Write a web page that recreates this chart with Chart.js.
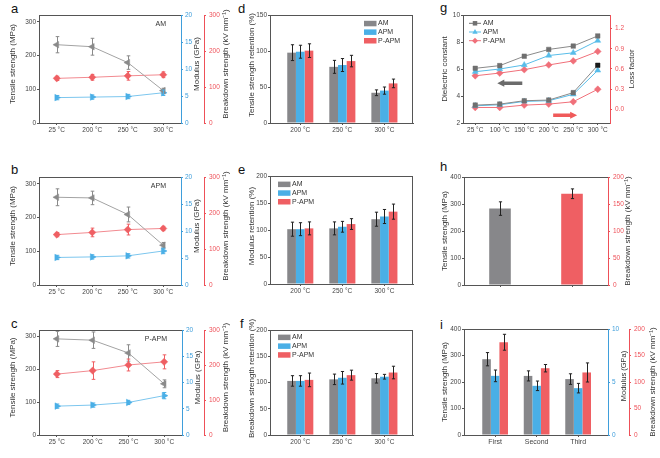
<!DOCTYPE html>
<html>
<head>
<meta charset="utf-8">
<title>Mechanical and dielectric properties of AM, APM and P-APM</title>
<script src="https://cdn.jsdelivr.net/npm/chart.js@4.4.1/dist/chart.umd.min.js"></script>
<style>
  html, body { margin: 0; padding: 0; background: #fff; }
  body { position: relative; width: 660px; height: 458px; overflow: hidden; font-family: Arial, "Liberation Sans", sans-serif; }
  canvas { position: absolute; }
  .tag { position: absolute; font-size: 13px; line-height: 13px; color: #111; }
</style>
</head>
<body>
<div class="tag" style="left:11px;top:2px">a</div>
<div class="tag" style="left:11px;top:163px">b</div>
<div class="tag" style="left:11px;top:317px">c</div>
<div class="tag" style="left:238px;top:2px">d</div>
<div class="tag" style="left:238px;top:163px">e</div>
<div class="tag" style="left:240px;top:317px">f</div>
<div class="tag" style="left:440px;top:1px">g</div>
<div class="tag" style="left:440px;top:160px">h</div>
<div class="tag" style="left:440px;top:318px">i</div>
<script>
// ---------- data ----------
const sampleNames = ['AM', 'APM', 'P-APM'];
const tempLabels = ['25 °C', '200 °C', '250 °C', '300 °C'];

// a: AM
const amTensile = [232, 226, 179, 96];
const amTensileErr = [24, 25, 20, 7];
const amModulus = [4.7, 4.8, 4.9, 5.6];
const amModulusErr = [0.4, 0.4, 0.4, 0.5];
const amBreakdown = [124, 127, 131, 134];
const amBreakdownErr = [6, 8, 12, 8];

// b: APM
const apmTensile = [260, 258, 209, 118];
const apmTensileErr = [25, 20, 22, 8];
const apmModulus = [5.1, 5.2, 5.4, 6.3];
const apmModulusErr = [0.4, 0.4, 0.4, 0.5];
const apmBreakdown = [140, 146, 154, 157];
const apmBreakdownErr = [6, 12, 15, 6];

// c: P-APM
const papmTensile = [293, 289, 250, 156];
const papmTensileErr = [23, 25, 25, 12];
const papmModulus = [5.5, 5.7, 6.2, 7.5];
const papmModulusErr = [0.4, 0.4, 0.4, 0.6];
const papmBreakdown = [174, 184, 200, 209];
const papmBreakdownErr = [10, 25, 17, 20];

// d, e, f: retention (%)
const retLabels = ['200 °C', '250 °C', '300 °C'];
const tsRetAM = [97.7, 78, 42];
const tsRetAMErr = [11, 9, 4];
const tsRetAPM = [99, 80.5, 45];
const tsRetAPMErr = [9, 9, 5];
const tsRetPAPM = [100.5, 86, 55];
const tsRetPAPMErr = [9.5, 8, 6];

const modRetAM = [101.5, 103, 120];
const modRetAMErr = [13, 12, 13];
const modRetAPM = [101.5, 106, 125];
const modRetAPMErr = [12, 10, 13];
const modRetPAPM = [103, 111, 134];
const modRetPAPMErr = [12, 10, 14];

const bdRetAM = [103, 106, 108];
const bdRetAMErr = [10, 10, 9];
const bdRetAPM = [103, 109, 111];
const bdRetAPMErr = [10, 12, 4.5];
const bdRetPAPM = [105, 114, 119];
const bdRetPAPMErr = [13, 9.5, 12];

// g: dielectric constant and loss factor
const dielLabels = ['25 °C', '100 °C', '150 °C', '200 °C', '250 °C', '300 °C'];
const dkAM = [6.05, 6.25, 6.95, 7.45, 7.7, 8.45];
const dkAPM = [5.8, 6.0, 6.3, 7.0, 7.2, 8.1];
const dkPAPM = [5.5, 5.7, 5.95, 6.3, 6.6, 7.3];
const lossAM = [0.065, 0.08, 0.13, 0.14, 0.25, 0.655];
const lossAPM = [0.055, 0.07, 0.12, 0.13, 0.225, 0.58];
const lossPAPM = [0.03, 0.03, 0.065, 0.08, 0.115, 0.3];

// h: tensile strength (MPa) and breakdown strength (kV/mm)
const hValues = [283, 169];
const hErrors = [25, 9];

// i: repeated cycles
const cycleLabels = ['First', 'Second', 'Third'];
const cycTensile = [286, 223, 211];
const cycTensileErr = [25, 19, 20];
const cycModulus = [5.58, 4.64, 4.42];
const cycModulusErr = [0.55, 0.45, 0.45];
const cycBreakdown = [175, 126, 118];
const cycBreakdownErr = [15, 7, 18];

// ---------- look ----------
const FONT = 'Arial, "Liberation Sans", sans-serif';
const AXIS = '#555555';
const TXT = '#333333';
const GRAY = '#87878a';
const BLUE = '#4aafe6';
const RED = '#ef5f63';
const BLUE_AX = '#3f9edb';
const RED_AX = '#ee5058';

Chart.defaults.font.family = FONT;
Chart.defaults.font.size = 6.5;
Chart.defaults.color = '#444';

// error bars drawn from dataset.errors
Chart.register({
  id: 'errorBars',
  afterDatasetsDraw(chart) {
    const ctx = chart.ctx;
    chart.data.datasets.forEach((ds, i) => {
      if (!ds.errors) return;
      const meta = chart.getDatasetMeta(i);
      const ys = chart.scales[meta.yAxisID];
      const cap = ds.errorCap || 1.6;
      ctx.save();
      ctx.strokeStyle = ds.errorColor || '#222';
      ctx.lineWidth = 1;
      meta.data.forEach((el, j) => {
        const raw = ds.data[j];
        const v = raw !== null && typeof raw === 'object' ? raw.y : raw;
        const e = ds.errors[j];
        if (v == null || e == null) return;
        const x = Math.round(el.x) + 0.5;
        const y1 = ys.getPixelForValue(v + e);
        const y2 = ys.getPixelForValue(v - e);
        ctx.beginPath();
        ctx.moveTo(x, y1); ctx.lineTo(x, y2);
        ctx.moveTo(x - cap, y1); ctx.lineTo(x + cap, y1);
        ctx.moveTo(x - cap, y2); ctx.lineTo(x + cap, y2);
        ctx.stroke();
      });
      ctx.restore();
    });
  }
});

function makeCanvas(left, top, w, h) {
  const c = document.createElement('canvas');
  c.width = w; c.height = h;
  c.style.left = left + 'px'; c.style.top = top + 'px';
  c.style.width = w + 'px'; c.style.height = h + 'px';
  document.body.appendChild(c);
  return c;
}

function decor(fn) {
  return { id: 'decor', afterDraw(chart) { fn(chart.ctx, chart); } };
}

function vtext(ctx, text, x, y, color, size) {
  ctx.save();
  ctx.translate(x, y);
  ctx.rotate(-Math.PI / 2);
  ctx.font = (size || 8) + 'px ' + FONT;
  ctx.fillStyle = color || TXT;
  ctx.textAlign = 'center';
  ctx.textBaseline = 'middle';
  ctx.fillText(text, 0, 0);
  ctx.restore();
}

function htext(ctx, text, x, y, align, size, color) {
  ctx.save();
  ctx.font = (size || 7) + 'px ' + FONT;
  ctx.fillStyle = color || TXT;
  ctx.textAlign = align || 'left';
  ctx.textBaseline = 'middle';
  ctx.fillText(text, x, y);
  ctx.restore();
}

function edge(ctx, a, side, color) {
  ctx.save();
  ctx.strokeStyle = color || AXIS;
  ctx.lineWidth = 1;
  ctx.beginPath();
  if (side === 'top') {
    const y = Math.round(a.top) + 0.5;
    ctx.moveTo(a.left, y); ctx.lineTo(a.right, y);
  } else {
    const x = Math.round(a.right) - 0.5;
    ctx.moveTo(x, a.top); ctx.lineTo(x, a.bottom);
  }
  ctx.stroke();
  ctx.restore();
}

function boxLegend(ctx, x, y, dy, colors) {
  sampleNames.forEach((name, k) => {
    const yy = y + k * dy;
    ctx.fillStyle = colors[k];
    ctx.fillRect(x, yy - 2.7, 12.5, 5.5);
    htext(ctx, name, x + 14, yy, 'left', 7);
  });
}

function marker(ctx, style, x, y, r, color) {
  ctx.save();
  ctx.fillStyle = color;
  ctx.beginPath();
  if (style === 'rect') {
    ctx.rect(x - r * 0.75, y - r * 0.75, r * 1.5, r * 1.5);
  } else if (style === 'triangle') {
    ctx.moveTo(x, y - r); ctx.lineTo(x + r * 0.9, y + r * 0.55); ctx.lineTo(x - r * 0.9, y + r * 0.55);
  } else {
    ctx.moveTo(x, y - r); ctx.lineTo(x + r, y); ctx.lineTo(x, y + r); ctx.lineTo(x - r, y);
  }
  ctx.closePath();
  ctx.fill();
  ctx.restore();
}

function arrow(ctx, x1, x2, y, color) {
  const dir = Math.sign(x2 - x1), head = 7, hh = 3.6, sw = 1.7;
  ctx.save();
  ctx.fillStyle = color;
  ctx.beginPath();
  ctx.moveTo(x1, y - sw);
  ctx.lineTo(x2 - dir * head, y - sw);
  ctx.lineTo(x2 - dir * head, y - hh);
  ctx.lineTo(x2, y);
  ctx.lineTo(x2 - dir * head, y + hh);
  ctx.lineTo(x2 - dir * head, y + sw);
  ctx.lineTo(x1, y + sw);
  ctx.closePath();
  ctx.fill();
  ctx.restore();
}

function valueAxis(o) {
  const c = o.color || AXIS;
  return {
    type: 'linear', position: o.pos || 'left', min: o.min, max: o.max,
    border: { display: true, color: c, width: 1 },
    grid: { drawOnChartArea: false, color: c, tickLength: 2 },
    ticks: {
      stepSize: o.step, includeBounds: false, color: o.color || '#444',
      padding: o.pad == null ? 1 : o.pad,
      callback: o.fmt || (v => v)
    },
    afterFit: s => { s.width = o.width; }
  };
}

function catAxis(h, size, hideLabels) {
  return {
    type: 'category', offset: true,
    border: { display: true, color: AXIS },
    grid: { drawOnChartArea: false, offset: false, color: AXIS, tickLength: 2 },
    ticks: {
      color: '#444', padding: 1, maxRotation: 0, autoSkip: false,
      font: { size: size || 6.5 },
      callback: hideLabels ? () => '' : function (v) { return this.getLabelForValue(v); }
    },
    afterFit: s => { s.height = h; }
  };
}

function indexAxis(labels, h, min, max, size) {
  return {
    type: 'linear', min, max, offset: false,
    border: { display: true, color: AXIS },
    grid: { drawOnChartArea: false, offset: false, color: AXIS, tickLength: 2 },
    afterBuildTicks: s => { s.ticks = labels.map((_, i) => ({ value: i })); },
    ticks: {
      color: '#444', padding: 1, maxRotation: 0, autoSkip: false,
      font: { size: size || 6.5 },
      callback: v => labels[v]
    },
    afterFit: s => { s.height = h; }
  };
}

function baseOptions(pad) {
  return {
    responsive: false, animation: false, devicePixelRatio: 1, events: [],
    layout: { padding: Object.assign({ top: 0, bottom: 0, left: 0, right: 0 }, pad) },
    plugins: { legend: { display: false }, tooltip: { enabled: false } }
  };
}

function lineSet(values, errs, axis, color, style, rot, lineColor, radius) {
  return {
    data: values, errors: errs, errorColor: color, errorCap: 1.8, yAxisID: axis,
    borderColor: lineColor || color, borderWidth: 1,
    pointStyle: style, pointRotation: rot || 0, pointRadius: radius || 3.4,
    pointBackgroundColor: color, pointBorderColor: color, pointBorderWidth: 0.5
  };
}

function barSet(values, errs, color, axis) {
  return {
    data: values.map((v, i) => ({ x: i, y: v })), errors: errs, errorColor: '#222',
    backgroundColor: color, borderWidth: 0, yAxisID: axis || 'y',
    categoryPercentage: 0.62, barPercentage: 1
  };
}

// ---------- a, b, c ----------
function tempPanel(canvas, name, tensile, tensileErr, modulus, modulusErr, breakdown, breakdownErr, lay) {
  const opts = baseOptions({ top: lay.top });
  opts.scales = {
    x: catAxis(lay.xh),
    y: valueAxis({ min: 0, max: 320, step: 100, width: 39 }),
    y1: valueAxis({ pos: 'right', min: 0, max: 20, step: 5, width: lay.w1, color: BLUE_AX, pad: 2 }),
    y2: valueAxis({ pos: 'right', min: 0, max: 300, step: 100, width: lay.w2, color: RED_AX, pad: 3 })
  };
  new Chart(canvas, {
    type: 'line',
    data: {
      labels: tempLabels,
      datasets: [
        lineSet(tensile, tensileErr, 'y', '#8a8a8a', 'triangle', -90, '#a3a3a3', 3.8),
        lineSet(breakdown, breakdownErr, 'y2', RED, 'rectRot', 0, '#f28a90', 3.6),
        lineSet(modulus, modulusErr, 'y1', BLUE, 'triangle', 90, '#7cc6ee', 3.8)
      ]
    },
    options: opts,
    plugins: [decor((ctx, ch) => {
      const a = ch.chartArea;
      edge(ctx, a, 'top');
      const mid = (a.top + a.bottom) / 2 - 5;
      vtext(ctx, 'Tensile strength (MPa)', 12.5, mid);
      vtext(ctx, 'Modulus (GPa)', a.right + 16, mid);
      vtext(ctx, 'Breakdown strength (kV mm⁻¹)', 226, mid);
      htext(ctx, name, a.right - 15, a.top + 9, 'right', 7);
    })]
  });
}

tempPanel(makeCanvas(0, 0, 238, 150), 'AM', amTensile, amTensileErr, amModulus, amModulusErr,
  amBreakdown, amBreakdownErr, { top: 15, xh: 27, w1: 23, w2: 34 });
tempPanel(makeCanvas(0, 150, 238, 150), 'APM', apmTensile, apmTensileErr, apmModulus, apmModulusErr,
  apmBreakdown, apmBreakdownErr, { top: 27, xh: 15, w1: 23, w2: 34 });
tempPanel(makeCanvas(0, 300, 238, 158), 'P-APM', papmTensile, papmTensileErr, papmModulus, papmModulusErr,
  papmBreakdown, papmBreakdownErr, { top: 30, xh: 23, w1: 22, w2: 34 });

// ---------- d, e, f ----------
function retentionPanel(canvas, title, max, series, lay) {
  const opts = baseOptions({ top: lay.top, right: 27 });
  opts.scales = {
    x: indexAxis(retLabels, lay.xh, -0.72, 2.68),
    y: valueAxis({ min: 0, max, step: 50, width: 32 })
  };
  new Chart(canvas, {
    type: 'bar',
    data: {
      datasets: [
        barSet(series[0], series[1], GRAY),
        barSet(series[2], series[3], BLUE),
        barSet(series[4], series[5], RED)
      ]
    },
    options: opts,
    plugins: [decor((ctx, ch) => {
      const a = ch.chartArea;
      edge(ctx, a, 'top');
      edge(ctx, a, 'right');
      vtext(ctx, title, 13.7, (a.top + a.bottom) / 2 - 4);
      boxLegend(ctx, lay.lx, lay.ly, lay.ldy, [GRAY, BLUE, RED]);
    })]
  });
}

retentionPanel(makeCanvas(238, 0, 202, 150), 'Tensile strength retention (%)', 150,
  [tsRetAM, tsRetAMErr, tsRetAPM, tsRetAPMErr, tsRetPAPM, tsRetPAPMErr],
  { top: 15, xh: 27, lx: 126, ly: 23.5, ldy: 8.6 });
retentionPanel(makeCanvas(238, 150, 202, 150), 'Modulus retention (%)', 200,
  [modRetAM, modRetAMErr, modRetAPM, modRetAPMErr, modRetPAPM, modRetPAPMErr],
  { top: 26, xh: 16, lx: 40, ly: 34.3, ldy: 8.7 });
retentionPanel(makeCanvas(238, 300, 202, 158), 'Breakdown strength retention (%)', 200,
  [bdRetAM, bdRetAMErr, bdRetAPM, bdRetAPMErr, bdRetPAPM, bdRetPAPMErr],
  { top: 30, xh: 23, lx: 40, ly: 37.3, ldy: 8.8 });

// ---------- g ----------
(function () {
  const gOpts = baseOptions({ top: 15 });
  gOpts.scales = {
    x: catAxis(27),
    y: valueAxis({ min: 2, max: 10, step: 2, width: 23 }),
    y2: valueAxis({ pos: 'right', min: -0.2, max: 1.4, step: 0.3, width: 50, color: RED_AX, pad: 3, fmt: v => v.toFixed(1) })
  };
  const cGray = '#707070', cBlue = '#58bde9', cRed = '#f0707a';
  const lossAMColors = lossAM.map((_, i) => i === lossAM.length - 1 ? '#1a1a1a' : cGray);
  const lossAMSet = lineSet(lossAM, null, 'y2', cGray, 'rect', 0, '#8a8a8a', 3.2);
  lossAMSet.pointBackgroundColor = lossAMColors;
  lossAMSet.pointBorderColor = lossAMColors;
  new Chart(makeCanvas(440, 0, 220, 150), {
    type: 'line',
    data: {
      labels: dielLabels,
      datasets: [
        lineSet(dkAM, null, 'y', cGray, 'rect', 0, '#8a8a8a', 3.2),
        lineSet(dkAPM, null, 'y', cBlue, 'triangle', 0, cBlue, 3.4),
        lineSet(dkPAPM, null, 'y', cRed, 'rectRot', 0, cRed, 3.4),
        lossAMSet,
        lineSet(lossAPM, null, 'y2', cBlue, 'triangle', 0, cBlue, 3.4),
        lineSet(lossPAPM, null, 'y2', cRed, 'rectRot', 0, cRed, 3.4)
      ]
    },
    options: gOpts,
    plugins: [decor((ctx, ch) => {
      const a = ch.chartArea;
      const xs = ch.scales.x, yl = ch.scales.y, yr = ch.scales.y2;
      edge(ctx, a, 'top');
      const mid = (a.top + a.bottom) / 2;
      vtext(ctx, 'Dielectric constant', 4.5, mid);
      vtext(ctx, 'Loss factor', 192, mid);
      // legend
      const styles = ['rect', 'triangle', 'rectRot'];
      const cols = [cGray, cBlue, cRed];
      sampleNames.forEach((name, k) => {
        const y = 23.3 + k * 8.7;
        ctx.save();
        ctx.strokeStyle = cols[k];
        ctx.lineWidth = 1;
        ctx.beginPath(); ctx.moveTo(29, y); ctx.lineTo(41, y); ctx.stroke();
        ctx.restore();
        marker(ctx, styles[k], 35, y, 3, cols[k]);
        htext(ctx, name, 43, y, 'left', 7);
      });
      // direction arrows
      arrow(ctx, xs.getPixelForValue(1.92), xs.getPixelForValue(0.9), yl.getPixelForValue(4.95), '#6b6b6b');
      arrow(ctx, xs.getPixelForValue(3.18), xs.getPixelForValue(4.16), yr.getPixelForValue(-0.085), '#f05a5a');
    })]
  });
})();

// ---------- h ----------
(function () {
  const hOpts = baseOptions({ top: 27 });
  hOpts.scales = {
    x: catAxis(15, 6.5, true),
    y: valueAxis({ min: 0, max: 400, step: 100, width: 24 }),
    y2: valueAxis({ pos: 'right', min: 0, max: 200, step: 50, width: 52, color: RED_AX, pad: 3 })
  };
  hOpts.datasets = { bar: { grouped: false, categoryPercentage: 0.3, barPercentage: 1 } };
  new Chart(makeCanvas(440, 150, 220, 150), {
    type: 'bar',
    data: {
      labels: ['', ''],
      datasets: [
        { data: [hValues[0], null], errors: [hErrors[0], null], errorColor: '#222', backgroundColor: GRAY, yAxisID: 'y' },
        { data: [null, hValues[1]], errors: [null, hErrors[1]], errorColor: '#222', backgroundColor: RED, yAxisID: 'y2' }
      ]
    },
    options: hOpts,
    plugins: [decor((ctx, ch) => {
      const a = ch.chartArea;
      edge(ctx, a, 'top');
      const mid = (a.top + a.bottom) / 2;
      vtext(ctx, 'Tensile strength (MPa)', 5, mid);
      vtext(ctx, 'Breakdown strength (kV mm⁻¹)', 188, mid);
    })]
  });
})();

// ---------- i ----------
(function () {
  const iOpts = baseOptions({ top: 29 });
  iOpts.scales = {
    x: indexAxis(cycleLabels, 23, -0.75, 2.72, 7),
    y: valueAxis({ min: 0, max: 400, step: 100, width: 24 }),
    y1: valueAxis({ pos: 'right', min: 0, max: 10, step: 5, width: 21, color: BLUE_AX, pad: 2 }),
    y2: valueAxis({ pos: 'right', min: 0, max: 200, step: 50, width: 31, color: RED_AX, pad: 3 })
  };
  new Chart(makeCanvas(440, 300, 220, 158), {
    type: 'bar',
    data: {
      datasets: [
        barSet(cycTensile, cycTensileErr, GRAY, 'y'),
        barSet(cycModulus, cycModulusErr, BLUE, 'y1'),
        barSet(cycBreakdown, cycBreakdownErr, RED, 'y2')
      ]
    },
    options: iOpts,
    plugins: [decor((ctx, ch) => {
      const a = ch.chartArea;
      edge(ctx, a, 'top');
      const mid = (a.top + a.bottom) / 2;
      vtext(ctx, 'Tensile strength (MPa)', 5, mid);
      vtext(ctx, 'Modulus (GPa)', 183.5, mid - 6, TXT, 7.5);
      vtext(ctx, 'Breakdown strength (kV mm⁻¹)', 213, mid);
    })]
  });
})();
</script>
</body>
</html>
